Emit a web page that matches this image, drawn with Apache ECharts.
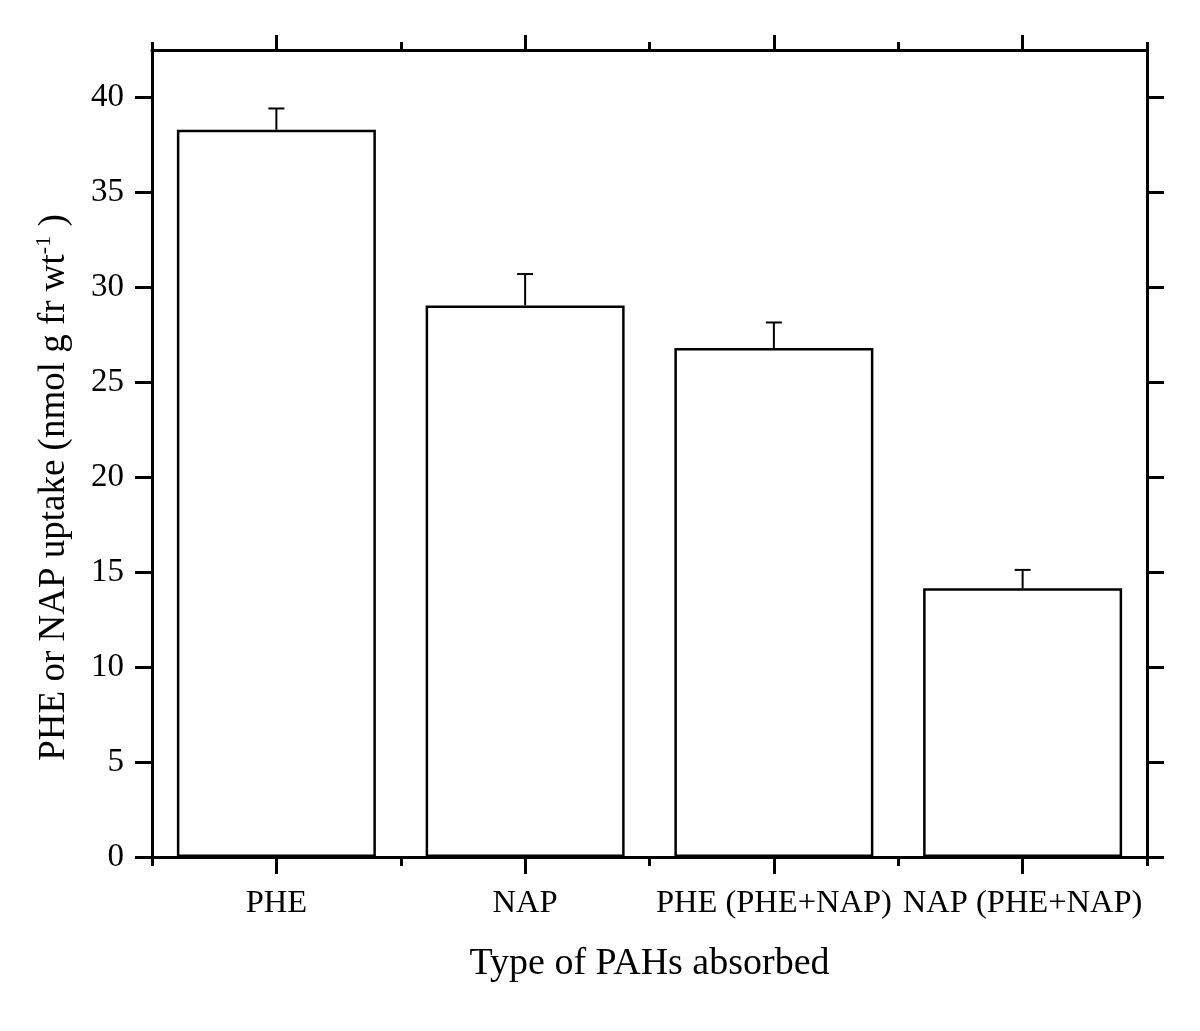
<!DOCTYPE html>
<html>
<head>
<meta charset="utf-8">
<script src="https://cdn.jsdelivr.net/npm/echarts@6/dist/echarts.min.js"></script>
<style>
html,body{margin:0;padding:0;background:#fff;}
#chart{width:1200px;height:1031px;}
</style>
</head>
<body>
<div id="chart"></div>
<script>
var categories = ['PHE', 'NAP', 'PHE (PHE+NAP)', 'NAP (PHE+NAP)'];
var uptake = [38.3, 29.05, 26.8, 14.15];
var errors = [1.12, 1.65, 1.35, 0.97];
var yTicks = [0, 5, 10, 15, 20, 25, 30, 35, 40];

var FONT = '"Liberation Serif", "Times New Roman", serif';
var chart = echarts.init(document.getElementById('chart'), null, {renderer: 'canvas'});

var errData = uptake.map(function (v, i) { return [i, v, errors[i]]; });

function catAxis(pos, major, len, showLabel, showLine) {
  return {
    type: 'category',
    position: pos,
    data: categories,
    gridIndex: 0,
    boundaryGap: true,
    axisLine: {show: showLine, lineStyle: {color: '#000', width: 3}},
    axisTick: {show: true, interval: 0, alignWithLabel: major, inside: false, length: len, lineStyle: {color: '#000', width: 3}},
    axisLabel: {show: showLabel, interval: 0, margin: 30, color: '#000', fontFamily: FONT, fontSize: 32.5},
    splitLine: {show: false}
  };
}

var bottomMain = catAxis('bottom', true, 17, true, true);
bottomMain.name = 'Type of PAHs absorbed';
bottomMain.nameLocation = 'middle';
bottomMain.nameGap = 88;
bottomMain.nameTextStyle = {color: '#000', fontFamily: FONT, fontSize: 38};

function valAxis(pos, showLabel) {
  return {
    type: 'value',
    position: pos,
    min: 0,
    max: 42.5,
    interval: 5,
    axisLine: {show: true, onZero: false, lineStyle: {color: '#000', width: 3}},
    axisTick: {show: true, inside: false, length: 17, lineStyle: {color: '#000', width: 3}, customValues: yTicks},
    axisLabel: {show: showLabel, margin: 28, color: '#000', fontFamily: FONT, fontSize: 33, customValues: yTicks},
    splitLine: {show: false}
  };
}
var leftAxis = valAxis('left', true);
leftAxis.name = 'PHE or NAP uptake (nmol g fr wt{sup|-1} )';
leftAxis.nameLocation = 'middle';
leftAxis.nameGap = 76;
leftAxis.nameTextStyle = {
  color: '#000', fontFamily: FONT, fontSize: 37,
  padding: [0, 68, 0, 0],
  rich: {sup: {fontSize: 22, fontFamily: FONT, color: '#000', verticalAlign: 'top', lineHeight: 43}}
};

var option = {
  backgroundColor: '#fff',
  animation: false,
  grid: {left: 152, right: 53, top: 50, bottom: 174, containLabel: false},
  xAxis: [
    bottomMain,
    catAxis('bottom', false, 9, false, false),
    catAxis('top', true, 15, false, true),
    catAxis('top', false, 8, false, false)
  ],
  yAxis: [leftAxis, valAxis('right', false)],
  series: [
    {
      type: 'bar',
      xAxisIndex: 0,
      yAxisIndex: 0,
      data: uptake,
      barWidth: '80%',
      itemStyle: {color: '#fff', borderColor: '#000', borderWidth: 2.5},
      z: 2
    },
    {
      type: 'custom',
      xAxisIndex: 0,
      yAxisIndex: 0,
      data: errData,
      z: 3,
      renderItem: function (params, api) {
        var x = api.value(0), y = api.value(1), e = api.value(2);
        var base = api.coord([x, y]);
        var top = api.coord([x, y + e]);
        return {
          type: 'group',
          children: [
            {type: 'line', shape: {x1: base[0], y1: base[1], x2: top[0], y2: top[1]}, style: {stroke: '#000', lineWidth: 2}},
            {type: 'line', shape: {x1: top[0] - 8, y1: top[1], x2: top[0] + 8, y2: top[1]}, style: {stroke: '#000', lineWidth: 2}}
          ]
        };
      }
    }
  ]
};
chart.setOption(option);
</script>
</body>
</html>
